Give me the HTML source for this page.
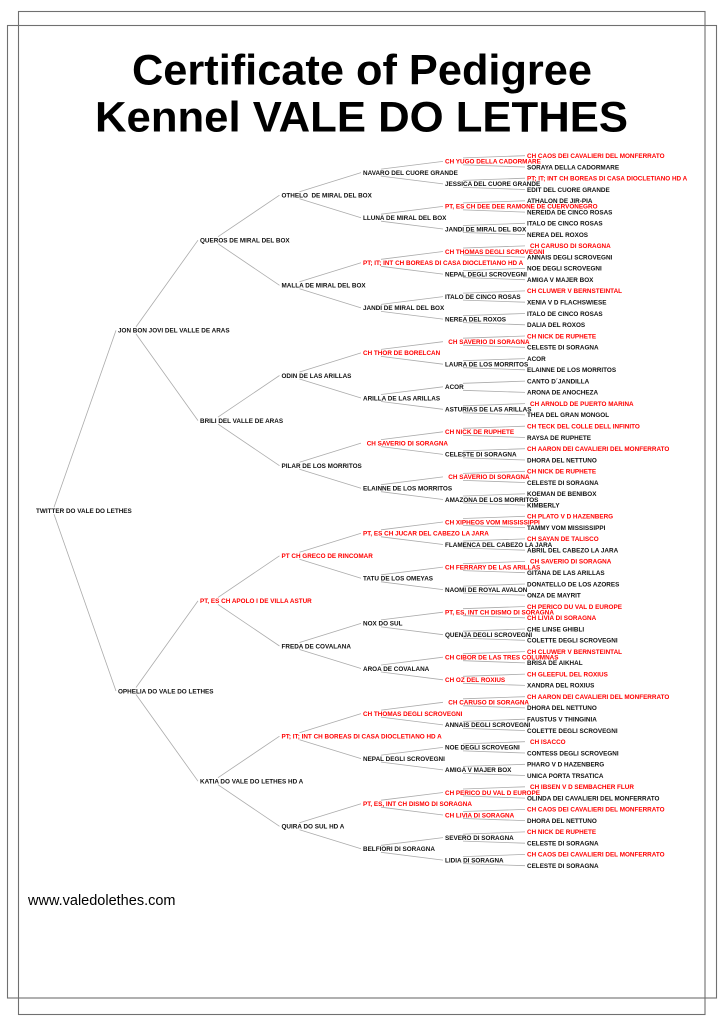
<!DOCTYPE html>
<html>
<head>
<meta charset="utf-8">
<style>
body{margin:0;background:#fff;}
svg{display:block;}
text{font-family:"Liberation Sans",Arial,sans-serif;}
.n{font-size:6.35px;font-weight:bold;fill:#111;}
.r{fill:#f00;}
</style>
</head>
<body>
<svg width="724" height="1024" viewBox="0 0 724 1024" xmlns="http://www.w3.org/2000/svg">
<rect x="0" y="0" width="724" height="1024" fill="#fff"/>
<!-- frames -->
<rect x="18.5" y="11.5" width="686.5" height="1003" fill="none" stroke="#707070" stroke-width="1.1"/>
<rect x="7.5" y="25.5" width="709" height="972.5" fill="none" stroke="#707070" stroke-width="1.1"/>

<!-- title -->
<text x="362" y="84.5" text-anchor="middle" font-size="43" font-weight="bold" fill="#000" textLength="460" lengthAdjust="spacingAndGlyphs">Certificate of Pedigree</text>
<text x="361.5" y="131.7" text-anchor="middle" font-size="43" font-weight="bold" fill="#000" textLength="533" lengthAdjust="spacingAndGlyphs">Kennel VALE DO LETHES</text>

<!-- connectors -->
<path fill="none" stroke="#ababab" stroke-width="0.8" d="
M54 507.2L116 330.4M54 514.2L116 691
M136 326.9L198 240.2M136 333.9L198 420.6M136 687.5L198 600.9M136 694.5L198 781.2
M218 236.7L279.5 195.2M218 243.7L279.5 285.3M218 417.1L279.5 375.5M218 424.1L279.5 465.7M218 597.4L279.5 555.8M218 604.4L279.5 646M218 777.7L279.5 736.2M218 784.7L279.5 826.3
M299.5 191.7L361 172.6M299.5 198.7L361 217.7
M299.5 281.8L361 262.8M299.5 288.8L361 307.9
M299.5 372L361 352.9M299.5 379L361 398
M299.5 462.2L361 443.1M299.5 469.2L361 488.2
M299.5 552.3L361 533.3M299.5 559.3L361 578.3
M299.5 642.5L361 623.4M299.5 649.5L361 668.5
M299.5 732.7L361 713.6M299.5 739.7L361 758.6
M299.5 822.8L361 803.7M299.5 829.8L361 848.8
M381 169.1L443 161.4M381 176.1L443 183.9
M381 214.2L443 206.4M381 221.2L443 229
M381 259.3L443 251.5M381 266.3L443 274.1
M381 304.4L443 296.6M381 311.4L443 319.1
M381 349.4L443 341.7M381 356.4L443 364.2
M381 394.5L443 386.8M381 401.5L443 409.3
M381 439.6L443 431.8M381 446.6L443 454.4
M381 484.7L443 476.9M381 491.7L443 499.5
M381 529.8L443 522M381 536.8L443 544.5
M381 574.8L443 567.1M381 581.8L443 589.6
M381 619.9L443 612.2M381 626.9L443 634.7
M381 665L443 657.2M381 672L443 679.8
M381 710.1L443 702.3M381 717.1L443 724.9
M381 755.1L443 747.4M381 762.1L443 769.9
M381 800.2L443 792.5M381 807.2L443 815
M381 845.3L443 837.6M381 852.3L443 860.1
M463 157.9L525 155.7M463 164.9L525 167
M463 180.4L525 178.2M463 187.4L525 189.5
M463 202.9L525 200.8M463 209.9L525 212.1
M463 225.5L525 223.3M463 232.5L525 234.6
M463 248L525 245.9M463 255L525 257.1
M463 270.6L525 268.4M463 277.6L525 279.7
M463 293.1L525 290.9M463 300.1L525 302.2
M463 315.6L525 313.5M463 322.6L525 324.8
M463 338.2L525 336M463 345.2L525 347.3
M463 360.7L525 358.6M463 367.7L525 369.8
M463 383.3L525 381.1M463 390.3L525 392.4
M463 405.8L525 403.6M463 412.8L525 414.9
M463 428.3L525 426.2M463 435.3L525 437.5
M463 450.9L525 448.7M463 457.9L525 460
M463 473.4L525 471.3M463 480.4L525 482.5
M463 496L525 493.8M463 503L525 505.1
M463 518.5L525 516.3M463 525.5L525 527.6
M463 541L525 538.9M463 548L525 550.2
M463 563.6L525 561.4M463 570.6L525 572.7
M463 586.1L525 584M463 593.1L525 595.2
M463 608.7L525 606.5M463 615.7L525 617.8
M463 631.2L525 629M463 638.2L525 640.3
M463 653.7L525 651.6M463 660.7L525 662.9
M463 676.3L525 674.1M463 683.3L525 685.4
M463 698.8L525 696.7M463 705.8L525 707.9
M463 721.4L525 719.2M463 728.4L525 730.5
M463 743.9L525 741.7M463 750.9L525 753
M463 766.4L525 764.3M463 773.4L525 775.5
M463 789L525 786.8M463 796L525 798.1
M463 811.5L525 809.4M463 818.5L525 820.6
M463 834.1L525 831.9M463 841.1L525 843.2
M463 856.6L525 854.4M463 863.6L525 865.7
"/>

<!-- root -->
<text class="n" x="36" y="513">TWITTER DO VALE DO LETHES</text>

<!-- gen 1 -->
<text class="n" x="118" y="332.7">JON BON JOVI DEL VALLE DE ARAS</text>
<text class="n" x="118" y="693.3">OPHELIA DO VALE DO LETHES</text>

<!-- gen 2 -->
<text class="n" x="200" y="242.5">QUEROS DE MIRAL DEL BOX</text>
<text class="n" x="200" y="422.9">BRILI DEL VALLE DE ARAS</text>
<text class="n r" x="200" y="603.2">PT, ES CH APOLO I DE VILLA ASTUR</text>
<text class="n" x="200" y="783.5">KATIA DO VALE DO LETHES HD A</text>

<!-- gen 3 -->
<text class="n" x="281.5" y="197.5" style="white-space:pre">OTHELO  DE MIRAL DEL BOX</text>
<text class="n" x="281.5" y="287.6">MALLA DE MIRAL DEL BOX</text>
<text class="n" x="281.5" y="377.8">ODIN DE LAS ARILLAS</text>
<text class="n" x="281.5" y="468">PILAR DE LOS MORRITOS</text>
<text class="n r" x="281.5" y="558.1">PT CH GRECO DE RINCOMAR</text>
<text class="n" x="281.5" y="648.3">FREDA DE COVALANA</text>
<text class="n r" x="281.5" y="738.5">PT; IT; INT CH BOREAS DI CASA DIOCLETIANO HD A</text>
<text class="n" x="281.5" y="828.6">QUIRA DO SUL HD A</text>

<!-- gen 4 -->
<text class="n" x="363" y="174.9">NAVARO DEL CUORE GRANDE</text>
<text class="n" x="363" y="220">LLUNA DE MIRAL DEL BOX</text>
<text class="n r" x="363" y="265.1">PT; IT; INT CH BOREAS DI CASA DIOCLETIANO HD A</text>
<text class="n" x="363" y="310.2">JANDI DE MIRAL DEL BOX</text>
<text class="n r" x="363" y="355.2">CH THOR DE BORELCAN</text>
<text class="n" x="363" y="400.3">ARILLA DE LAS ARILLAS</text>
<text class="n r" x="366.7" y="445.4">CH SAVERIO DI SORAGNA</text>
<text class="n" x="363" y="490.5">ELAINNE DE LOS MORRITOS</text>
<text class="n r" x="363" y="535.6">PT, ES CH JUCAR DEL CABEZO LA JARA</text>
<text class="n" x="363" y="580.6">TATU DE LOS OMEYAS</text>
<text class="n" x="363" y="625.7">NOX DO SUL</text>
<text class="n" x="363" y="670.8">AROA DE COVALANA</text>
<text class="n r" x="363" y="715.9">CH THOMAS DEGLI SCROVEGNI</text>
<text class="n" x="363" y="760.9">NEPAL DEGLI SCROVEGNI</text>
<text class="n r" x="363" y="806">PT, ES, INT CH DISMO DI SORAGNA</text>
<text class="n" x="363" y="851.1">BELFIORI DI SORAGNA</text>

<!-- gen 5 -->
<text class="n r" x="445" y="163.7">CH YUGO DELLA CADORMARE</text>
<text class="n" x="445" y="186.2">JESSICA DEL CUORE GRANDE</text>
<text class="n r" x="445" y="208.7">PT, ES CH DEE DEE RAMONE DE CUERVONEGRO</text>
<text class="n" x="445" y="231.3">JANDI DE MIRAL DEL BOX</text>
<text class="n r" x="445" y="253.8">CH THOMAS DEGLI SCROVEGNI</text>
<text class="n" x="445" y="276.4">NEPAL DEGLI SCROVEGNI</text>
<text class="n" x="445" y="298.9">ITALO DE CINCO ROSAS</text>
<text class="n" x="445" y="321.4">NEREA DEL ROXOS</text>
<text class="n r" x="448.3" y="344">CH SAVERIO DI SORAGNA</text>
<text class="n" x="445" y="366.5">LAURA DE LOS MORRITOS</text>
<text class="n" x="445" y="389.1">ACOR</text>
<text class="n" x="445" y="411.6">ASTURIAS DE LAS ARILLAS</text>
<text class="n r" x="445" y="434.1">CH NICK DE RUPHETE</text>
<text class="n" x="445" y="456.7">CELESTE DI SORAGNA</text>
<text class="n r" x="448.3" y="479.2">CH SAVERIO DI SORAGNA</text>
<text class="n" x="445" y="501.8">AMAZONA DE LOS MORRITOS</text>
<text class="n r" x="445" y="524.3">CH XIPHEOS VOM MISSISSIPPI</text>
<text class="n" x="445" y="546.8">FLAMENCA DEL CABEZO LA JARA</text>
<text class="n r" x="445" y="569.4">CH FERRARY DE LAS ARILLAS</text>
<text class="n" x="445" y="591.9">NAOMI DE ROYAL AVALON</text>
<text class="n r" x="445" y="614.5">PT, ES, INT CH DISMO DI SORAGNA</text>
<text class="n" x="445" y="637">QUENJA DEGLI SCROVEGNI</text>
<text class="n r" x="445" y="659.5">CH CIBOR DE LAS TRES COLUMNAS</text>
<text class="n r" x="445" y="682.1">CH OZ DEL ROXIUS</text>
<text class="n r" x="448.3" y="704.6">CH CARUSO DI SORAGNA</text>
<text class="n" x="445" y="727.2">ANNAIS DEGLI SCROVEGNI</text>
<text class="n" x="445" y="749.7">NOE DEGLI SCROVEGNI</text>
<text class="n" x="445" y="772.2">AMIGA V MAJER BOX</text>
<text class="n r" x="445" y="794.8">CH PERICO DU VAL D EUROPE</text>
<text class="n r" x="445" y="817.3">CH LIVIA DI SORAGNA</text>
<text class="n" x="445" y="839.9">SEVERO DI SORAGNA</text>
<text class="n" x="445" y="862.4">LIDIA DI SORAGNA</text>

<!-- gen 6 -->
<text class="n r" x="527" y="158">CH CAOS DEI CAVALIERI DEL MONFERRATO</text>
<text class="n" x="527" y="169.3">SORAYA DELLA CADORMARE</text>
<text class="n r" x="527" y="180.5">PT; IT; INT CH BOREAS DI CASA DIOCLETIANO HD A</text>
<text class="n" x="527" y="191.8">EDIT DEL CUORE GRANDE</text>
<text class="n" x="527" y="203.1">ATHALON DE JIR-PIA</text>
<text class="n" x="527" y="214.4">NEREIDA DE CINCO ROSAS</text>
<text class="n" x="527" y="225.6">ITALO DE CINCO ROSAS</text>
<text class="n" x="527" y="236.9">NEREA DEL ROXOS</text>
<text class="n r" x="530" y="248.2">CH CARUSO DI SORAGNA</text>
<text class="n" x="527" y="259.4">ANNAIS DEGLI SCROVEGNI</text>
<text class="n" x="527" y="270.7">NOE DEGLI SCROVEGNI</text>
<text class="n" x="527" y="282">AMIGA V MAJER BOX</text>
<text class="n r" x="527" y="293.2">CH CLUWER V BERNSTEINTAL</text>
<text class="n" x="527" y="304.5">XENIA V D FLACHSWIESE</text>
<text class="n" x="527" y="315.8">ITALO DE CINCO ROSAS</text>
<text class="n" x="527" y="327.1">DALIA DEL ROXOS</text>
<text class="n r" x="527" y="338.3">CH NICK DE RUPHETE</text>
<text class="n" x="527" y="349.6">CELESTE DI SORAGNA</text>
<text class="n" x="527" y="360.9">ACOR</text>
<text class="n" x="527" y="372.1">ELAINNE DE LOS MORRITOS</text>
<text class="n" x="527" y="383.4">CANTO D´JANDILLA</text>
<text class="n" x="527" y="394.7">ARONA DE ANOCHEZA</text>
<text class="n r" x="530" y="405.9">CH ARNOLD DE PUERTO MARINA</text>
<text class="n" x="527" y="417.2">THEA DEL GRAN MONGOL</text>
<text class="n r" x="527" y="428.5">CH TECK DEL COLLE DELL INFINITO</text>
<text class="n" x="527" y="439.8">RAYSA DE RUPHETE</text>
<text class="n r" x="527" y="451">CH AARON DEI CAVALIERI DEL MONFERRATO</text>
<text class="n" x="527" y="462.3">DHORA DEL NETTUNO</text>
<text class="n r" x="527" y="473.6">CH NICK DE RUPHETE</text>
<text class="n" x="527" y="484.8">CELESTE DI SORAGNA</text>
<text class="n" x="527" y="496.1">KOEMAN DE BENIBOX</text>
<text class="n" x="527" y="507.4">KIMBERLY</text>
<text class="n r" x="527" y="518.6">CH PLATO V D HAZENBERG</text>
<text class="n" x="527" y="529.9">TAMMY VOM MISSISSIPPI</text>
<text class="n r" x="527" y="541.2">CH SAYAN DE TALISCO</text>
<text class="n" x="527" y="552.5">ABRIL DEL CABEZO LA JARA</text>
<text class="n r" x="530" y="563.7">CH SAVERIO DI SORAGNA</text>
<text class="n" x="527" y="575">GITANA DE LAS ARILLAS</text>
<text class="n" x="527" y="586.3">DONATELLO DE LOS AZORES</text>
<text class="n" x="527" y="597.5">ONZA DE MAYRIT</text>
<text class="n r" x="527" y="608.8">CH PERICO DU VAL D EUROPE</text>
<text class="n r" x="527" y="620.1">CH LIVIA DI SORAGNA</text>
<text class="n" x="527" y="631.3">CHE LINSE GHIBLI</text>
<text class="n" x="527" y="642.6">COLETTE DEGLI SCROVEGNI</text>
<text class="n r" x="527" y="653.9">CH CLUWER V BERNSTEINTAL</text>
<text class="n" x="527" y="665.2">BRISA DE AIKHAL</text>
<text class="n r" x="527" y="676.4">CH GLEEFUL DEL ROXIUS</text>
<text class="n" x="527" y="687.7">XANDRA DEL ROXIUS</text>
<text class="n r" x="527" y="699">CH AARON DEI CAVALIERI DEL MONFERRATO</text>
<text class="n" x="527" y="710.2">DHORA DEL NETTUNO</text>
<text class="n" x="527" y="721.5">FAUSTUS V THINGINIA</text>
<text class="n" x="527" y="732.8">COLETTE DEGLI SCROVEGNI</text>
<text class="n r" x="530" y="744">CH ISACCO</text>
<text class="n" x="527" y="755.3">CONTESS DEGLI SCROVEGNI</text>
<text class="n" x="527" y="766.6">PHARO V D HAZENBERG</text>
<text class="n" x="527" y="777.8">UNICA PORTA TRSATICA</text>
<text class="n r" x="530" y="789.1">CH IBSEN V D SEMBACHER FLUR</text>
<text class="n" x="527" y="800.4">OLINDA DEI CAVALIERI DEL MONFERRATO</text>
<text class="n r" x="527" y="811.7">CH CAOS DEI CAVALIERI DEL MONFERRATO</text>
<text class="n" x="527" y="822.9">DHORA DEL NETTUNO</text>
<text class="n r" x="527" y="834.2">CH NICK DE RUPHETE</text>
<text class="n" x="527" y="845.5">CELESTE DI SORAGNA</text>
<text class="n r" x="527" y="856.7">CH CAOS DEI CAVALIERI DEL MONFERRATO</text>
<text class="n" x="527" y="868">CELESTE DI SORAGNA</text>

<!-- website -->
<text x="28" y="905" font-size="14.5" fill="#000">www.valedolethes.com</text>
</svg>
</body>
</html>
